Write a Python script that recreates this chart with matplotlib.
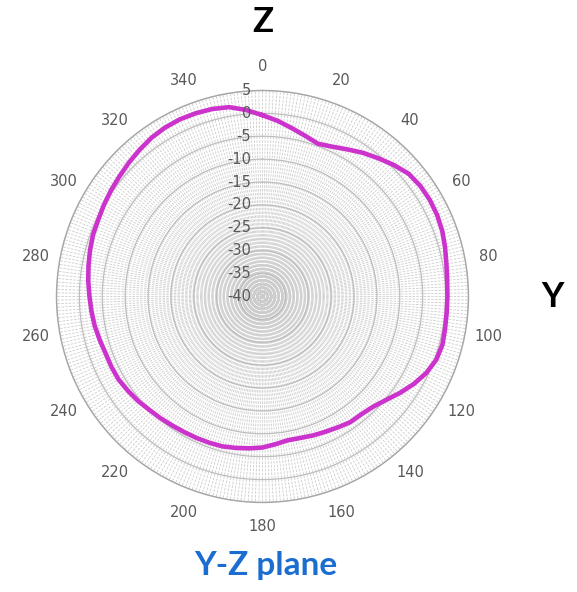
import numpy as np
import matplotlib
matplotlib.use("Agg")
import matplotlib.pyplot as plt

# angle (deg, clockwise from Z) and level (dB)
angles = list(range(0, 360, 5))
levels = [-0.4, -1.5, -2.7, -3.7, -4.5, -3.9, -2.9, -1.7, -0.6, 0.6, 1.7, 2.1,
          2.2, 2.1, 1.8, 1.3, 0.8, 0.5, 0.4, 0.4, 0.5, 0.7, 0.4, -0.5,
          -1.8, -3.3, -4.8, -5.9, -6.4, -6.5, -7.0, -7.4, -7.7, -8.0, -8.1, -7.6,
          -7.0, -6.7, -6.4, -6.1, -6.0, -5.9, -5.8, -5.6, -5.3, -5.0, -4.5, -4.1,
          -3.7, -3.6, -3.55, -3.2, -2.8, -2.5, -2.2, -1.8, -1.4, -1.0, -0.6, -0.4,
          0.0, 0.4, 0.8, 1.3, 1.8, 2.3, 2.6, 2.7, 2.6, 2.4, 2.0, 0.9]
r_ticks = [5, 0, -5, -10, -15, -20, -25, -30, -35, -40]
theta_ticks = list(range(0, 360, 20))

fig = plt.figure(figsize=(5.77, 5.92), dpi=100)
ax = fig.add_axes([0.0979, 0.1512, 0.714, 0.696], projection='polar')
ax.set_theta_zero_location('N')
ax.set_theta_direction(-1)
ax.set_ylim(-40, 5)

# dense spokes every degree, labels every 20
ax.set_xticks(np.deg2rad(theta_ticks))
ax.set_xticklabels([str(t) for t in theta_ticks], color='#595959', fontsize=10.5)
ax.set_xticks(np.deg2rad(np.arange(0, 360, 1)), minor=True)
ax.set_yticks(r_ticks)
ax.set_yticklabels([])
ax.tick_params(axis='x', pad=10, length=0)
ax.tick_params(axis='x', which='minor', length=0)
ax.grid(False)
ax.xaxis.grid(True, which='both', color='#cccccc', lw=0.6, ls=(0, (3, 1.5)))
ax.yaxis.grid(True, color='#bdbdbd', lw=0.9)
ax.spines['polar'].set_color('#a6a6a6')
ax.spines['polar'].set_linewidth(1.0)

for v in r_ticks:
    ax.annotate(str(v), xy=(0, v), xytext=(-8, 0), textcoords='offset points',
                ha='right', va='center', color='#595959', fontsize=10.5)

th = np.deg2rad(angles + [angles[0]])
ax.plot(th, levels + [levels[0]], color='#cc33cc', lw=3.3, solid_joinstyle='round')

fig.text(0.456, 0.962, 'Z', fontsize=25, fontweight='bold', family='Lato',
         ha='center', va='center')
fig.text(0.958, 0.498, 'Y', fontsize=25, fontweight='bold', family='Lato',
         ha='center', va='center')
fig.text(0.46, 0.045, 'Y-Z plane', fontsize=24, fontweight='bold', family='Lato',
         color='#1c6dd0', ha='center', va='center')

fig.savefig('out.png', dpi=100)
